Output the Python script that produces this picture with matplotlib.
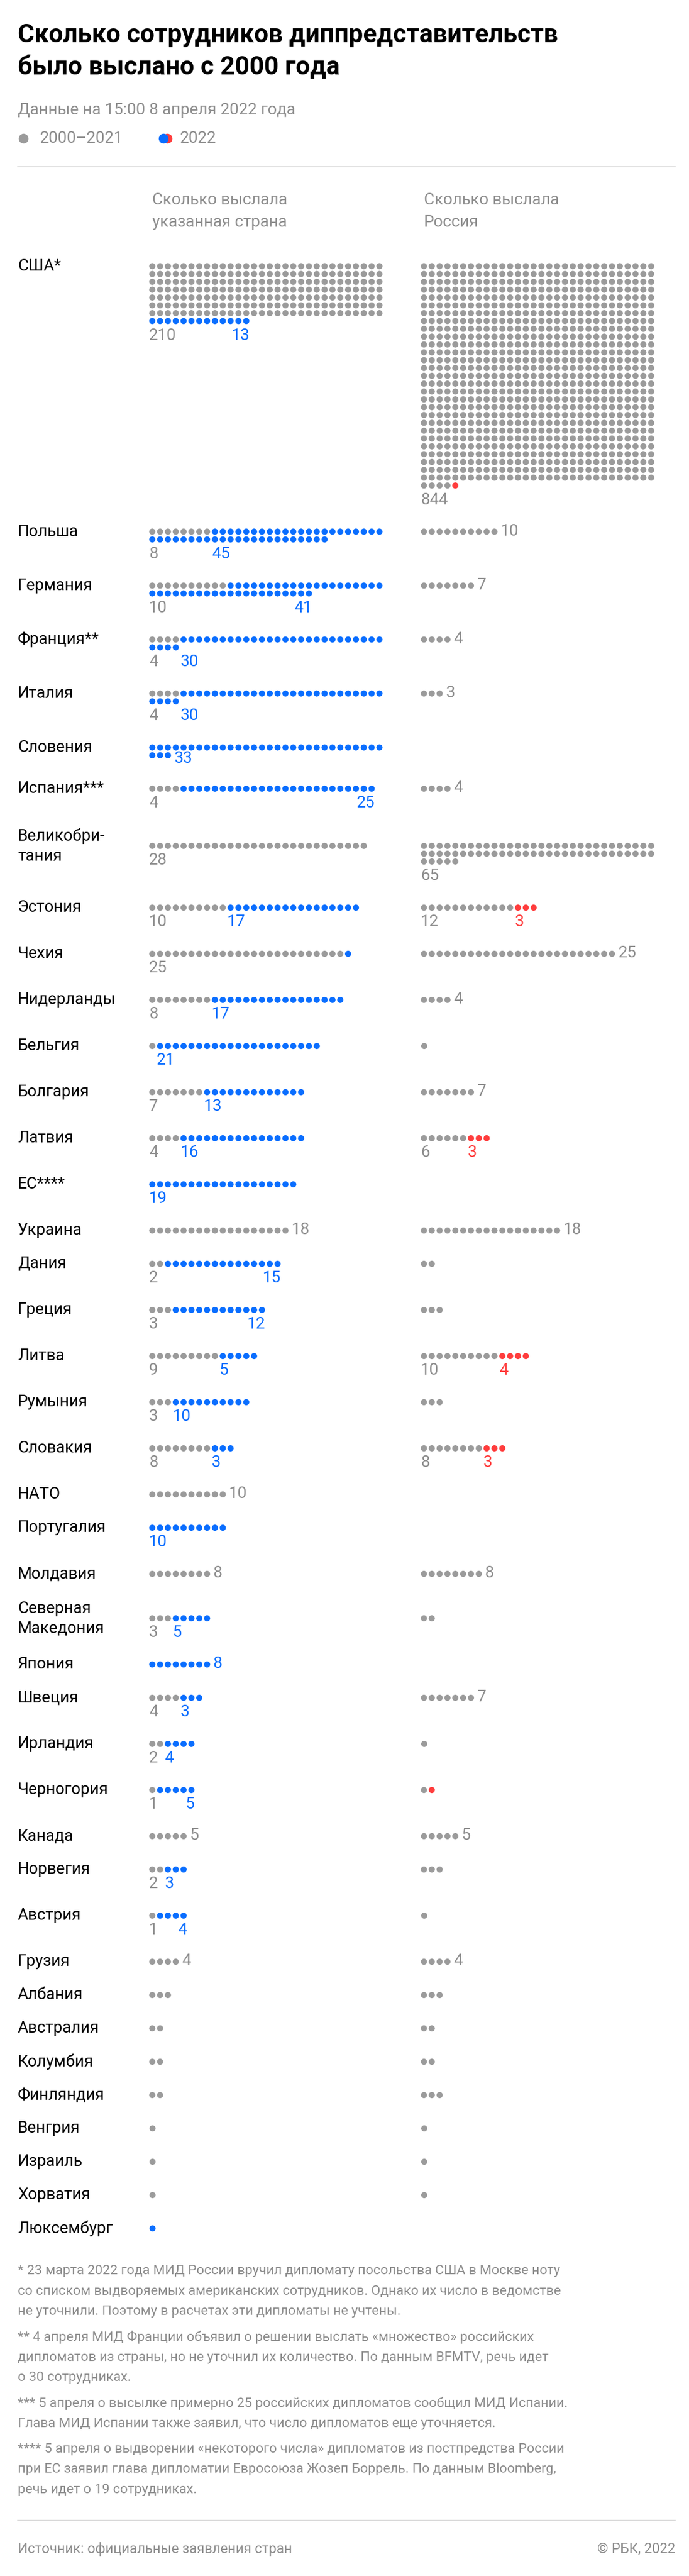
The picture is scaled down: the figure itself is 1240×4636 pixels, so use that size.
import matplotlib
matplotlib.use("Agg")
import matplotlib.pyplot as plt

plt.rcParams['font.family'] = ['Roboto', 'DejaVu Sans']

GRAY = '#9b9b9b'; TGRAY = '#8e8e8e'; BLUE = '#0a6eff'; RED = '#ff3d3d'

countries = ['США*', 'Польша', 'Германия', 'Франция**', 'Италия', 'Словения', 'Испания***',
             'Великобри-\nтания', 'Эстония', 'Чехия', 'Нидерланды', 'Бельгия', 'Болгария', 'Латвия',
             'ЕС****', 'Украина', 'Дания', 'Греция', 'Литва', 'Румыния', 'Словакия', 'НАТО',
             'Португалия', 'Молдавия', 'Северная\nМакедония', 'Япония', 'Швеция', 'Ирландия',
             'Черногория', 'Канада', 'Норвегия', 'Австрия', 'Грузия', 'Албания', 'Австралия',
             'Колумбия', 'Финляндия', 'Венгрия', 'Израиль', 'Хорватия', 'Люксембург']
# expelled by the country: 2000-2021 and 2022
left_old = [210, 8, 10, 4, 4, 0, 4, 28, 10, 25, 8, 1, 7, 4, 0, 18, 2, 3, 9, 3, 8, 10, 0, 8, 3, 0, 4, 2,
            1, 5, 2, 1, 4, 3, 2, 2, 2, 1, 1, 1, 0]
left_new = [13, 45, 41, 30, 30, 33, 25, 0, 17, 1, 17, 21, 13, 16, 19, 0, 15, 12, 5, 10, 3, 0, 10, 0, 5, 8,
            3, 4, 5, 0, 3, 4, 0, 0, 0, 0, 0, 0, 0, 0, 1]
# expelled by Russia: 2000-2021 and 2022
right_old = [844, 10, 7, 4, 3, 0, 4, 65, 12, 25, 4, 1, 7, 6, 0, 18, 2, 3, 10, 3, 8, 0, 0, 8, 2, 0, 7, 1,
             1, 5, 3, 1, 4, 3, 2, 2, 3, 1, 1, 1, 0]
right_new = [1, 0, 0, 0, 0, 0, 0, 0, 3, 0, 0, 0, 0, 3, 0, 0, 0, 0, 4, 0, 3, 0, 0, 0, 0, 0, 0, 0,
             1, 0, 0, 0, 0, 0, 0, 0, 0, 0, 0, 0, 0]
# label modes
left_mode = ['below', 'below', 'below', 'below', 'below', 'right', 'below', 'below', 'below', 'below',
             'below', 'below', 'below', 'below', 'below', 'right', 'below', 'below', 'below', 'below',
             'below', 'right', 'below', 'right', 'below', 'right', 'below', 'below', 'below', 'right',
             'below', 'below', 'right'] + ['none'] * 8
right_mode = ['below', 'right', 'right', 'right', 'right', 'none', 'right', 'below', 'below', 'right',
              'right', 'none', 'right', 'below', 'none', 'right', 'none', 'none', 'below', 'none',
              'below', 'none', 'none', 'right', 'none', 'none', 'right', 'none', 'none', 'right',
              'none', 'none', 'right'] + ['none'] * 8
new_label_at_end = {'США*', 'Германия', 'Испания***', 'Дания', 'Греция', 'Черногория', 'Австрия'}
hidden = {('США*', 'r_new'), ('Чехия', 'l_new'), ('Бельгия', 'l_old')}

footnotes = [
    '* 23 марта 2022 года МИД России вручил дипломату посольства США в Москве ноту',
    'со списком выдворяемых американских сотрудников. Однако их число в ведомстве',
    'не уточнили. Поэтому в расчетах эти дипломаты не учтены.',
    None,
    '** 4 апреля МИД Франции объявил о решении выслать «множество» российских',
    'дипломатов из страны, но не уточнил их количество. По данным BFMTV, речь идет',
    'о 30 сотрудниках.',
    None,
    '*** 5 апреля о высылке примерно 25 российских дипломатов сообщил МИД Испании.',
    'Глава МИД Испании также заявил, что число дипломатов еще уточняется.',
    None,
    '**** 5 апреля о выдворении «некоторого числа» дипломатов из постпредства России',
    'при ЕС заявил глава дипломатии Евросоюза Жозеп Боррель. По данным Bloomberg,',
    'речь идет о 19 сотрудниках.',
]

W, H = 1240, 4636
fig = plt.figure(figsize=(W / 100, H / 100), dpi=100)
ax = fig.add_axes([0, 0, 1, 1])
ax.set_xlim(0, W); ax.set_ylim(H, 0); ax.axis('off')

FS = 21
ax.text(32, 63, 'Сколько сотрудников диппредставительств', fontsize=33, fontweight='bold', va='center')
ax.text(32, 120, 'было выслано с 2000 года', fontsize=33, fontweight='bold', va='center')
ax.text(32, 198, 'Данные на 15:00 8 апреля 2022 года', fontsize=FS, color=TGRAY, va='center')
ax.scatter([42], [249], s=160, color=GRAY, linewidths=0)
ax.text(72, 249, '2000–2021', fontsize=FS, color=TGRAY, va='center')
ax.scatter([301], [249], s=160, color=RED, linewidths=0)
ax.scatter([294], [249], s=160, color=BLUE, linewidths=0)
ax.text(324, 249, '2022', fontsize=FS, color=TGRAY, va='center')
ax.plot([32, 1215], [300, 300], color='#dddddd', lw=1.5)
ax.text(274, 360, 'Сколько выслала', fontsize=FS, color=TGRAY, va='center')
ax.text(274, 400, 'указанная страна', fontsize=FS, color=TGRAY, va='center')
ax.text(763, 360, 'Сколько выслала', fontsize=FS, color=TGRAY, va='center')
ax.text(763, 400, 'Россия', fontsize=FS, color=TGRAY, va='center')

STEP = 14.1
PER_ROW = 30
DOT_S = 64

def draw_side(x0, y0, n_old, n_new, new_color, mode, name, side):
    total = n_old + n_new
    if total == 0:
        return
    xs, ys, cs = [], [], []
    for i in range(total):
        xs.append(x0 + (i % PER_ROW) * STEP)
        ys.append(y0 + (i // PER_ROW) * STEP)
        cs.append(GRAY if i < n_old else new_color)
    ax.scatter(xs, ys, s=DOT_S, c=cs, linewidths=0)
    last_y = ys[-1]
    if mode == 'right':
        col = TGRAY if n_new == 0 else new_color
        off = 6 if total > PER_ROW else -1
        ax.text(xs[-1] + 11, last_y + off, str(total), fontsize=FS, color=col, va='center')
    elif mode == 'below':
        ly = last_y + 26
        if n_old > 0 and (name, side + '_old') not in hidden:
            ax.text(x0 - 6, ly, str(n_old), fontsize=FS, color=TGRAY, va='center')
        if n_new > 0 and (name, side + '_new') not in hidden:
            if name in new_label_at_end:
                ax.text(xs[-1] + 6, ly, str(n_new), fontsize=FS, color=new_color, va='center', ha='right')
            else:
                ax.text(xs[n_old] - 6, ly, str(n_new), fontsize=FS, color=new_color, va='center')

y = 479
for k, name in enumerate(countries):
    if k > 0:
        prev_rows = max((left_old[k-1] + left_new[k-1] - 1) // PER_ROW,
                        (right_old[k-1] + right_new[k-1] - 1) // PER_ROW, 0)
        gap = 60 + STEP * prev_rows
        if 'below' in (left_mode[k-1], right_mode[k-1]):
            gap += 23
        if '\n' in name:
            gap += 20
        y += gap
    ax.text(32, y, name, fontsize=FS, va='center', linespacing=1.35)
    draw_side(274, y, left_old[k], left_new[k], BLUE, left_mode[k], name, 'l')
    draw_side(763, y, right_old[k], right_new[k], RED, right_mode[k], name, 'r')

fy = 4087
for line in footnotes:
    if line is None:
        fy += 10
        continue
    ax.text(32, fy, line, fontsize=17.5, color=TGRAY, va='center')
    fy += 36.3
ax.plot([32, 1215], [4536, 4536], color='#dddddd', lw=1.5)
ax.text(32, 4587, 'Источник: официальные заявления стран', fontsize=18, color=TGRAY, va='center')
ax.text(1215, 4587, '© РБК, 2022', fontsize=18, color=TGRAY, va='center', ha='right')

fig.savefig('out.png', dpi=100, facecolor='white')
